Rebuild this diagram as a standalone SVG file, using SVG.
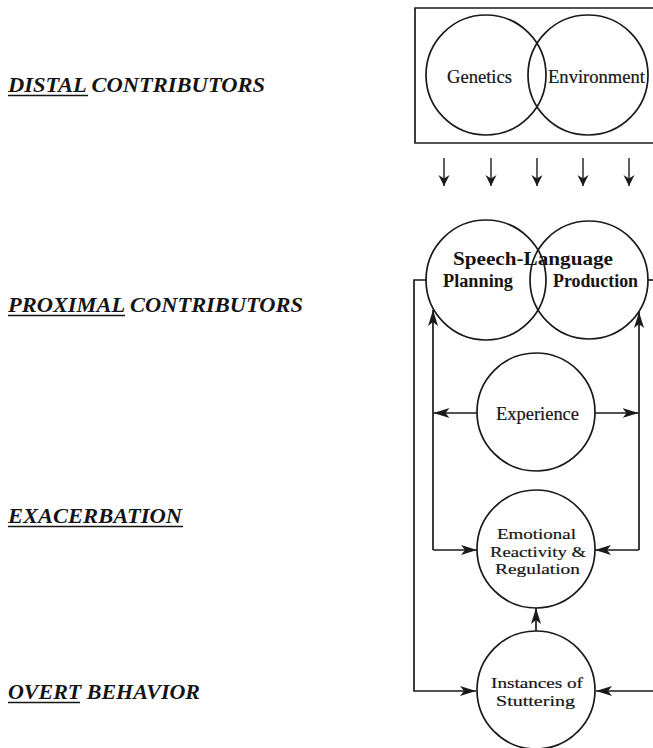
<svg xmlns="http://www.w3.org/2000/svg" width="653" height="748" viewBox="0 0 653 748">
  <style>
    .bg { fill: #ffffff; }
    .stage { font-family: "Liberation Serif", "Times New Roman", serif; font-weight: bold; font-style: italic; font-size: 21px; fill: #151515; }
    .rule { stroke: #151515; stroke-width: 1.6; }
    .node circle { fill: none; stroke: #1a1a1a; stroke-width: 1.7; }
    .frame { fill: none; stroke: #1a1a1a; stroke-width: 1.7; }
    .lbl { font-family: "Liberation Serif", "Times New Roman", serif; font-size: 18px; fill: #151515; stroke: #151515; stroke-width: 0.2; text-anchor: start; }
    .sm { font-size: 15.5px; }
    .hdr { font-weight: bold; stroke-width: 0; }
    .wire { fill: none; stroke: #1a1a1a; stroke-width: 1.7; }
    .tick { fill: none; stroke: #1a1a1a; stroke-width: 1.4; }
  </style>
  <defs>
    <marker id="head" markerUnits="userSpaceOnUse" markerWidth="17" markerHeight="11" viewBox="0 0 17 11" refX="16" refY="5.5" orient="auto">
      <path d="M0,0.5 L16,5.5 L0,10.5 L4,5.5 Z" fill="#1a1a1a"/>
    </marker>
    <marker id="small" markerUnits="userSpaceOnUse" markerWidth="12" markerHeight="12" viewBox="0 0 12 12" refX="11" refY="6" orient="auto">
      <path d="M0,0.5 L11,6 L0,11.5 L3.5,6 Z" fill="#1a1a1a"/>
    </marker>
  </defs>

  <rect class="bg" x="0" y="0" width="653" height="748"/>

  <!-- stage labels down the left margin -->
  <g id="stage-labels">
    <text class="stage" x="8" y="92" textLength="257" lengthAdjust="spacingAndGlyphs">DISTAL CONTRIBUTORS</text>
    <line class="rule" x1="8" y1="95.5" x2="88" y2="95.5"/>
    <text class="stage" x="8" y="312" textLength="295" lengthAdjust="spacingAndGlyphs">PROXIMAL CONTRIBUTORS</text>
    <line class="rule" x1="8" y1="315.5" x2="125" y2="315.5"/>
    <text class="stage" x="8" y="523" textLength="174" lengthAdjust="spacingAndGlyphs">EXACERBATION</text>
    <line class="rule" x1="8" y1="526.5" x2="183" y2="526.5"/>
    <text class="stage" x="8" y="699" textLength="192" lengthAdjust="spacingAndGlyphs">OVERT BEHAVIOR</text>
    <line class="rule" x1="8" y1="702.5" x2="80" y2="702.5"/>
  </g>

  <!-- distal box: genetics / environment -->
  <g id="distal-box">
    <path class="frame" d="M655,8 H415 V143 H655"/>
  </g>
  <g id="genetics" class="node">
    <circle cx="486" cy="75" r="60"/>
    <text class="lbl" x="447" y="83" textLength="65" lengthAdjust="spacingAndGlyphs">Genetics</text>
  </g>
  <g id="environment" class="node">
    <circle cx="588" cy="75" r="60"/>
    <text class="lbl" x="548" y="83" textLength="97" lengthAdjust="spacingAndGlyphs">Environment</text>
  </g>

  <!-- proximal: speech-language planning / production -->
  <g id="planning" class="node">
    <circle cx="486" cy="280" r="60"/>
    <text class="lbl hdr" x="443" y="287" textLength="70" lengthAdjust="spacingAndGlyphs">Planning</text>
  </g>
  <g id="production" class="node">
    <circle cx="589" cy="280" r="59"/>
    <text class="lbl hdr" x="553" y="287" textLength="85" lengthAdjust="spacingAndGlyphs">Production</text>
  </g>
  <g id="speech-language">
    <text class="lbl hdr" x="453" y="265" font-size="19" textLength="160" lengthAdjust="spacingAndGlyphs">Speech-Language</text>
  </g>

  <g id="experience" class="node">
    <circle cx="536" cy="412" r="59"/>
    <text class="lbl" x="496" y="420" textLength="83" lengthAdjust="spacingAndGlyphs">Experience</text>
  </g>

  <g id="emotional" class="node">
    <circle cx="536" cy="549" r="59"/>
    <text class="lbl sm" x="497" y="539" textLength="79" lengthAdjust="spacingAndGlyphs">Emotional</text>
    <text class="lbl sm" x="490" y="556.5" textLength="96" lengthAdjust="spacingAndGlyphs">Reactivity &amp;</text>
    <text class="lbl sm" x="495" y="574" textLength="85" lengthAdjust="spacingAndGlyphs">Regulation</text>
  </g>

  <g id="instances" class="node">
    <circle cx="536" cy="690" r="59"/>
    <text class="lbl sm" x="491" y="688" textLength="92" lengthAdjust="spacingAndGlyphs">Instances of</text>
    <text class="lbl sm" x="496" y="705.5" textLength="79" lengthAdjust="spacingAndGlyphs">Stuttering</text>
  </g>

  <!-- connectors -->
  <g id="connectors">
    <!-- distal influences flowing down -->
    <line class="tick" x1="444" y1="158" x2="444" y2="186" marker-end="url(#small)"/>
    <line class="tick" x1="491" y1="158" x2="491" y2="186" marker-end="url(#small)"/>
    <line class="tick" x1="537" y1="158" x2="537" y2="186" marker-end="url(#small)"/>
    <line class="tick" x1="583" y1="158" x2="583" y2="186" marker-end="url(#small)"/>
    <line class="tick" x1="629" y1="158" x2="629" y2="186" marker-end="url(#small)"/>

    <!-- outer feedback loops to instances of stuttering -->
    <path class="wire" d="M427,280 H414 V691 H476" marker-end="url(#head)"/>
    <path class="wire" d="M648,280 H655"/>
    <path class="wire" d="M655,691 H596" marker-end="url(#head)"/>

    <!-- experience feeding both sides -->
    <path class="wire" d="M477,413 H433.5" marker-end="url(#head)"/>
    <path class="wire" d="M595,413 H638.5" marker-end="url(#head)"/>

    <!-- inner rails up to planning / production and across to emotion -->
    <path class="wire" d="M433,550 V310" marker-end="url(#head)"/>
    <path class="wire" d="M433,550 H477" marker-end="url(#head)"/>
    <path class="wire" d="M639,550 V312" marker-end="url(#head)"/>
    <path class="wire" d="M639,550 H595" marker-end="url(#head)"/>

    <!-- stuttering back to emotional reactivity -->
    <path class="wire" d="M536,631 V608" marker-end="url(#head)"/>
  </g>
</svg>
